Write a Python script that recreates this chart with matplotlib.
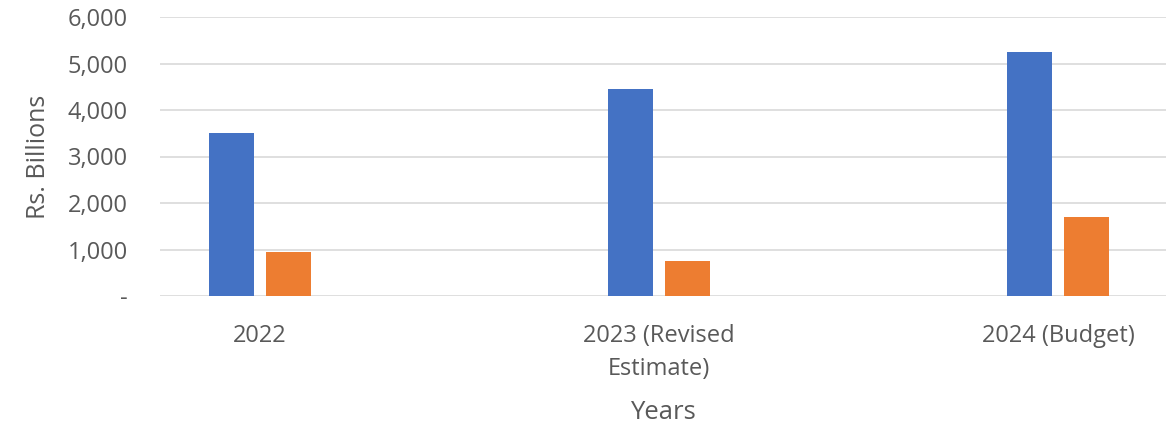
import matplotlib.pyplot as plt
import numpy as np

# values (Rs. Billions)
years = ["2022", "2023 (Revised\nEstimate)", "2024 (Budget)"]
series_blue = [3510, 4450, 5250]
series_orange = [950, 750, 1690]
y_ticks = [0, 1000, 2000, 3000, 4000, 5000, 6000]
y_tick_labels = ["-", "1,000", "2,000", "3,000", "4,000", "5,000", "6,000"]

plt.rcParams["font.family"] = ["Open Sans", "DejaVu Sans"]
grey = "#595959"

fig = plt.figure(figsize=(11.66, 4.26), dpi=100)
ax = fig.add_axes([160 / 1166, 1 - 296 / 426, 1 - 160 / 1166, (296 - 17) / 426])

x = np.arange(len(years))
w = 0.113
off = 0.0715
ax.bar(x - off, series_blue, width=w, color="#4472C4", zorder=3)
ax.bar(x + off, series_orange, width=w, color="#ED7D31", zorder=3)

ax.set_xlim(-0.25, 2.27)
ax.set_ylim(0, 6000)
ax.set_yticks(y_ticks)
ax.set_yticklabels(y_tick_labels)
ax.set_xticks(x)
ax.set_xticklabels(years, linespacing=1.5)

ax.grid(axis="y", color="#d9d9d9", linewidth=1.2, zorder=0)
for s in ax.spines.values():
    s.set_visible(False)
ax.tick_params(axis="both", length=0, colors=grey, labelsize=17)
ax.tick_params(axis="y", pad=23)
ax.tick_params(axis="x", pad=20)

ax.set_ylabel("Rs. Billions", color=grey, fontsize=18, labelpad=12)
ax.set_xlabel("Years", color=grey, fontsize=18.5, labelpad=14)

fig.savefig("out.png", dpi=100)
